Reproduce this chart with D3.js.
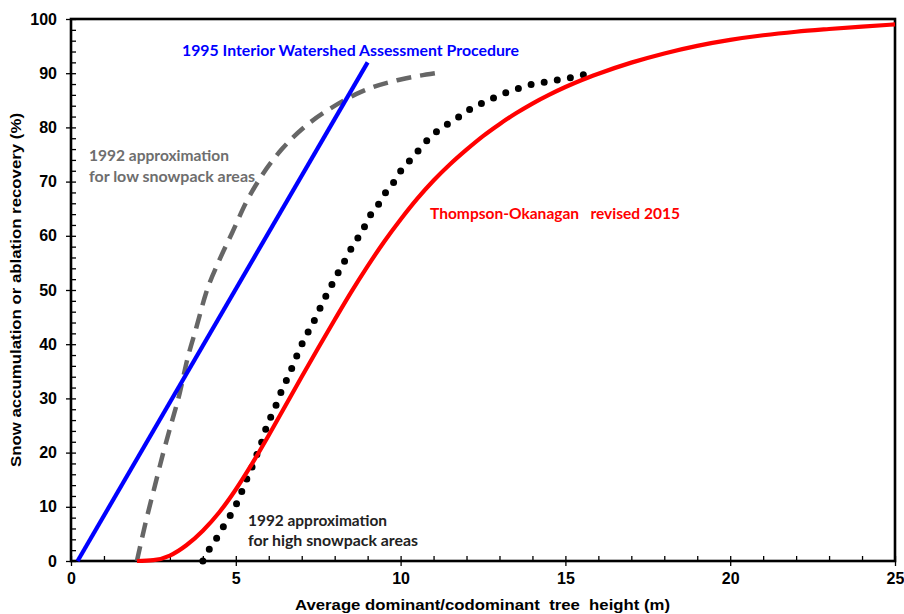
<!DOCTYPE html>
<html>
<head>
<meta charset="utf-8">
<script src="https://cdn.jsdelivr.net/npm/d3@7"></script>
<style>
  html, body { margin: 0; padding: 0; background: #fff; }
  svg { display: block; }
  .tick text { font-family: "Liberation Sans", Arial, sans-serif; font-weight: bold; font-size: 16px; fill: #000; }
</style>
</head>
<body>
<svg id="chart" width="904" height="614"></svg>
<script>
// Tree height (m) vs. snow accumulation / ablation recovery (%)
const xTicks = [0, 5, 10, 15, 20, 25];
const yTicks = [0, 10, 20, 30, 40, 50, 60, 70, 80, 90, 100];

// 1995 Interior Watershed Assessment Procedure (straight line)
const iwapX = [0.2, 9.0];
const iwapY = [0, 92];

// 1992 approximation for low snowpack areas (dashed)
const lowX = [2.0, 2.3, 2.55, 2.8, 3.05, 3.3, 3.52, 3.8, 4.1, 4.5, 4.9, 5.3, 5.8, 6.4, 7.15, 7.9, 8.85, 9.9, 11.05];
const lowY = [0, 8, 14, 20, 25.5, 31, 37, 43, 49.5, 55.5, 60.7, 66, 71.2, 76, 80.4, 83.6, 86.7, 88.7, 90];

// 1992 approximation for high snowpack areas (dotted)
const highX = [4.0, 4.2, 4.43, 4.64, 4.85, 5.05, 5.2, 5.36, 5.52, 5.67, 5.82, 5.94, 6.12, 6.27, 6.42, 6.6, 6.76, 6.91, 7.09, 7.3, 7.48, 7.64, 7.85, 8.03, 8.24, 8.42, 8.64, 8.85, 9.03, 9.3, 9.5, 9.76, 9.97, 10.24, 10.52, 10.79, 11.09, 11.42, 11.76, 12.12, 12.48, 12.88, 13.24, 13.64, 14.03, 14.45, 14.88, 15.27, 15.67];
const highY = [0, 2.2, 4.3, 6.5, 8.6, 10.9, 13.1, 15.5, 17.7, 20.1, 22.5, 24.9, 27.3, 29.5, 31.9, 34.1, 36.5, 38.7, 41.1, 43.4, 45.6, 47.8, 50.2, 52.4, 54.6, 56.8, 59, 61, 63.3, 65.5, 67.6, 69.6, 71.7, 73.6, 75.6, 77.5, 79.2, 80.6, 81.9, 83.4, 84.5, 85.6, 86.5, 87.3, 88, 88.4, 88.9, 89.3, 89.9];

// Thompson-Okanagan revised 2015 (solid red)
const toX = [2.0, 2.5, 3.0, 3.5, 4.0, 4.5, 5.0, 5.5, 6.0, 6.5, 7.0, 7.5, 8.0, 8.5, 9.0, 9.5, 10.0, 10.5, 11.0, 11.5, 12.0, 12.5, 13.0, 13.5, 14.0, 14.5, 15.0, 15.5, 16.0, 17, 18, 19, 20, 21, 22, 23, 24, 25];
const toY = [0, 0.15, 1.0, 2.9, 5.6, 9.0, 13.2, 18.0, 23.2, 28.6, 34.0, 39.3, 44.5, 49.6, 54.4, 58.9, 63.0, 66.8, 70.2, 73.2, 75.9, 78.4, 80.6, 82.6, 84.4, 86.0, 87.45, 88.75, 89.9, 91.95, 93.65, 95.05, 96.15, 97.0, 97.65, 98.15, 98.6, 99.0];

const svg = d3.select("#chart");
const x = d3.scaleLinear().domain([0, 25]).range([71, 895]);
const y = d3.scaleLinear().domain([0, 100]).range([561, 19]);

const zip = (xs, ys) => xs.map((v, i) => [v, ys[i]]);
const line = d3.line().x(d => x(d[0])).y(d => y(d[1]));
const smooth = d3.line().x(d => x(d[0])).y(d => y(d[1])).curve(d3.curveMonotoneX);

// Minor ticks point inward, major ticks outward
const gx = svg.append("g").attr("transform", `translate(0,${y(0)})`);
gx.call(d3.axisBottom(x).tickValues(d3.range(0, 26, 1)).tickSize(-5).tickFormat(""));
gx.append("g").call(d3.axisBottom(x).tickValues(xTicks).tickSize(5).tickPadding(8).tickFormat(d3.format("d")));
const gy = svg.append("g").attr("transform", `translate(${x(0)},0)`);
gy.call(d3.axisLeft(y).tickValues(d3.range(0, 101, 2)).tickSize(-5).tickFormat(""));
gy.append("g").call(d3.axisLeft(y).tickValues(yTicks).tickSize(5).tickPadding(9).tickFormat(d3.format("d")));
svg.selectAll(".domain").remove();
svg.selectAll(".tick line").attr("stroke", "#000").attr("stroke-width", 1.3);
gx.selectAll(".tick text").attr("dy", "0.6em");

// Frame
svg.append("rect")
  .attr("x", x(0)).attr("y", y(100))
  .attr("width", x(25) - x(0)).attr("height", y(0) - y(100))
  .attr("fill", "none").attr("stroke", "#000").attr("stroke-width", 2.6);

// Series
svg.append("path").datum(zip(lowX, lowY)).attr("d", smooth)
  .attr("fill", "none").attr("stroke", "#666").attr("stroke-width", 4.5)
  .attr("stroke-dasharray", "15,9");
svg.append("path").datum(zip(highX, highY)).attr("d", smooth)
  .attr("fill", "none").attr("stroke", "#000").attr("stroke-width", 7)
  .attr("stroke-linecap", "round").attr("stroke-dasharray", "0,13.3");
svg.append("path").datum(zip(toX, toY)).attr("d", smooth)
  .attr("fill", "none").attr("stroke", "#ff0000").attr("stroke-width", 4.2);
svg.append("path").datum(zip(iwapX, iwapY)).attr("d", line)
  .attr("fill", "none").attr("stroke", "#0000ff").attr("stroke-width", 4.2);

// Annotations
const annoFont = "Lato, 'Open Sans', sans-serif";
function label(txt, px, py, w, color) {
  svg.append("text").attr("x", px).attr("y", py)
    .attr("font-family", annoFont).attr("font-weight", "bold").attr("font-size", 15)
    .attr("fill", color).style("white-space", "pre")
    .attr("textLength", w).attr("lengthAdjust", "spacingAndGlyphs")
    .text(txt);
}
label("1995 Interior Watershed Assessment Procedure", 182, 56, 337, "#0000ff");
label("1992 approximation", 89, 161, 140, "#6e6e6e");
label("for low snowpack areas", 89, 182, 166, "#6e6e6e");
label("Thompson-Okanagan   revised 2015", 430, 219, 250, "#ff0000");
label("1992 approximation", 248, 526, 139, "#222");
label("for high snowpack areas", 248, 546, 170, "#222");

// Axis titles
svg.append("text")
  .attr("x", 295).attr("y", 610)
  .attr("font-family", "'Liberation Sans', Arial, sans-serif").attr("font-weight", "bold").attr("font-size", 15)
  .style("white-space", "pre").attr("textLength", 375).attr("lengthAdjust", "spacingAndGlyphs")
  .text("Average dominant/codominant  tree  height (m)");
svg.append("text")
  .attr("transform", "translate(21,467) rotate(-90)")
  .attr("font-family", "'Liberation Sans', Arial, sans-serif").attr("font-weight", "bold").attr("font-size", 15)
  .attr("textLength", 354).attr("lengthAdjust", "spacingAndGlyphs")
  .text("Snow accumulation or ablation recovery (%)");
</script>
</body>
</html>
